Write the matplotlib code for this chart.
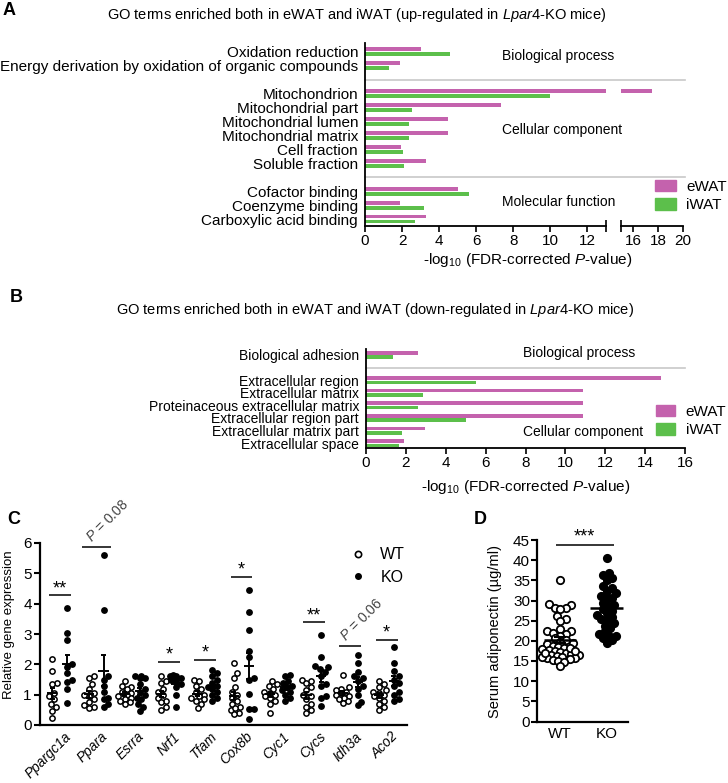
import matplotlib
matplotlib.use('Agg')
import matplotlib.pyplot as plt
from matplotlib.patches import Patch
from matplotlib.lines import Line2D
import numpy as np

plt.rcParams['font.family'] = ['Liberation Sans', 'DejaVu Sans']
plt.rcParams['mathtext.fontset'] = 'custom'
plt.rcParams['mathtext.rm'] = 'Liberation Sans'
plt.rcParams['mathtext.it'] = 'Liberation Sans:italic'
plt.rcParams['mathtext.bf'] = 'Liberation Sans:bold'

# ---- panel A: GO terms up-regulated ----
a_terms = ['Oxidation reduction', 'Energy derivation by oxidation of organic compounds',
           'Mitochondrion', 'Mitochondrial part', 'Mitochondrial lumen', 'Mitochondrial matrix',
           'Cell fraction', 'Soluble fraction',
           'Cofactor binding', 'Coenzyme binding', 'Carboxylic acid binding']
a_group_sizes = [2, 6, 3]
a_groups = ['Biological process', 'Cellular component', 'Molecular function']
a_ewat = [3.0, 1.9, 17.5, 7.35, 4.5, 4.5, 1.95, 3.3, 5.0, 1.9, 3.3]
a_iwat = [4.6, 1.3, 10.0, 2.55, 2.4, 2.4, 2.05, 2.1, 5.6, 3.2, 2.7]

# ---- panel B: GO terms down-regulated ----
b_terms = ['Biological adhesion', 'Extracellular region', 'Extracellular matrix',
           'Proteinaceous extracellular matrix', 'Extracellular region part',
           'Extracellular matrix part', 'Extracellular space']
b_group_sizes = [1, 6]
b_groups = ['Biological process', 'Cellular component']
b_ewat = [2.6, 14.8, 10.9, 10.87, 10.87, 2.95, 1.93]
b_iwat = [1.33, 5.5, 2.85, 2.63, 5.0, 1.83, 1.68]

# ---- panel C: relative gene expression ----
c_genes = ['Ppargc1a', 'Ppara', 'Esrra', 'Nrf1', 'Tfam', 'Cox8b', 'Cyc1', 'Cycs', 'Idh3a', 'Aco2']
c_wt = [
    [2.17, 1.79, 1.38, 1.35, 1.05, 0.95, 0.85, 0.6, 0.45, 0.22, 0.7],
    [1.6, 1.55, 1.35, 1.2, 1.05, 0.95, 0.85, 0.75, 0.65, 0.6, 0.55, 1.0],
    [1.45, 1.3, 1.25, 1.2, 1.1, 1.05, 1.0, 0.95, 0.9, 0.85, 0.8, 0.75, 0.7],
    [1.6, 1.45, 1.4, 1.2, 1.1, 1.0, 0.9, 0.8, 0.75, 0.6, 0.5],
    [1.5, 1.45, 1.3, 1.2, 1.1, 1.0, 0.95, 0.9, 0.85, 0.8, 0.7, 0.55],
    [2.05, 1.7, 1.55, 1.25, 1.1, 1.0, 0.9, 0.8, 0.7, 0.6, 0.5, 0.4, 0.35, 0.55],
    [1.45, 1.35, 1.3, 1.2, 1.1, 1.05, 1.0, 0.95, 0.9, 0.8, 0.7, 0.4],
    [1.5, 1.45, 1.4, 1.25, 1.15, 1.0, 0.95, 0.85, 0.7, 0.6, 0.5, 0.4],
    [1.65, 1.25, 1.2, 1.15, 1.1, 1.05, 1.0, 0.95, 0.9, 0.85, 0.8, 0.72],
    [1.45, 1.35, 1.25, 1.15, 1.1, 1.05, 1.0, 0.95, 0.9, 0.8, 0.7, 0.6, 0.5],
]
c_ko = [
    [3.85, 3.03, 2.8, 2.0, 1.9, 1.7, 1.5, 1.43, 1.18, 0.73],
    [5.6, 3.8, 1.6, 1.5, 1.3, 1.1, 0.9, 0.7, 0.85, 0.6],
    [1.6, 1.6, 1.55, 1.55, 1.35, 1.2, 1.1, 1.0, 0.9, 0.85, 0.7, 0.6, 0.45],
    [1.65, 1.6, 1.6, 1.55, 1.5, 1.45, 1.35, 1.25, 1.0, 0.6],
    [1.8, 1.7, 1.6, 1.5, 1.4, 1.3, 1.25, 1.2, 1.1, 1.0, 0.9, 0.8],
    [4.45, 3.74, 3.13, 2.44, 2.25, 1.55, 1.5, 1.02, 0.53, 0.53, 0.2],
    [1.65, 1.6, 1.45, 1.4, 1.3, 1.25, 1.15, 1.1, 1.0, 0.9, 0.8],
    [2.98, 2.25, 1.95, 1.9, 1.85, 1.75, 1.6, 1.35, 1.3, 0.95, 0.9, 0.62],
    [2.3, 2.03, 1.76, 1.6, 1.55, 1.45, 1.3, 1.2, 1.0, 0.77, 0.65],
    [2.58, 2.03, 1.78, 1.6, 1.5, 1.38, 1.3, 1.1, 1.0, 0.85, 0.8],
]
c_sig_text = ['**', 'P = 0.08', '', '*', '*', '*', '', '**', 'P = 0.06', '*']
c_sig_y = [4.27, 5.88, 0, 2.09, 2.14, 4.87, 0, 3.38, 2.61, 2.8]

# ---- panel D: serum adiponectin ----
d_groups = ['WT', 'KO']
d_wt = [35.1, 29.1, 28.9, 28.2, 28.2, 27.9, 26.2, 25.3, 25.0, 22.9, 22.4, 22.4, 21.9, 21.7,
        21.2, 20.6, 20.2, 19.8, 19.4, 19.1, 18.8, 18.5, 18.2, 18.0, 17.7, 17.4, 17.2, 17.0,
        16.8, 16.6, 16.4, 16.2, 16.0, 15.8, 15.7, 15.9, 15.6, 15.2, 15.1, 14.8, 13.8, 18.2,
        17.6, 16.9]
d_ko = [40.5, 36.3, 36.7, 35.5, 35.2, 33.6, 33.0, 32.4, 31.8, 31.2, 30.6, 30.6, 29.5, 28.9,
        28.6, 28.0, 27.3, 26.8, 26.4, 25.8, 25.3, 25.2, 24.3, 23.7, 23.1, 22.4, 21.7, 21.2,
        21.2, 20.6, 20.2, 19.5]

W, H = 728, 783
PINK = '#C462AD'
GREEN = '#5CBF4B'
SEP = '#C8C8C8'


def px_axes(fig, x0, y0, x1, y1):
    return fig.add_axes([x0 / W, 1 - y1 / H, (x1 - x0) / W, (y1 - y0) / H])


def group_rows(sizes):
    rows, start = [], 0
    for n in sizes:
        rows += list(range(start, start + n))
        start += n + 1
    return np.array(rows, dtype=float)


def swarm(vals, dy, dx, width):
    # simple beeswarm: smallest sideways shift that avoids overlap
    vals = np.asarray(vals, dtype=float)
    offs = np.zeros(len(vals))
    placed = []
    cands = [0.0]
    k = 1
    while k * dx / 3 <= width:
        cands += [k * dx / 3, -k * dx / 3]
        k += 1
    for i in np.argsort(vals):
        y = vals[i]
        best, bestd = 0.0, -1
        for c in cands:
            d = min([np.hypot((c - px) / dx, (y - py) / dy) for px, py in placed], default=9)
            if d >= 1:
                best = c
                break
            if d > bestd:
                best, bestd = c, d
        offs[i] = best
        placed.append((best, y))
    return offs


fig = plt.figure(figsize=(W / 100, H / 100), dpi=100)

# ================= panel A =================
rows = group_rows(a_group_sizes)
axl = px_axes(fig, 365, 43, 606, 226)
axr = px_axes(fig, 621, 43, 683, 226)
for ax in (axl, axr):
    ax.patch.set_visible(False)
    ax.barh(rows - 0.18, a_ewat, height=0.28, color=PINK)
    ax.barh(rows + 0.18, a_iwat, height=0.28, color=GREEN)
    ax.set_ylim(12.5, -0.63)
    ax.spines['top'].set_visible(False)
    ax.spines['right'].set_visible(False)
    ax.spines['bottom'].set_linewidth(1.3)
    ax.tick_params(axis='x', labelsize=11, length=4, width=1.2, pad=2)
axr.spines['left'].set_visible(False)
axr.set_yticks([])
axl.spines['left'].set_linewidth(1.3)
axl.set_yticks(rows)
axl.set_yticklabels(a_terms, fontsize=11)
axl.tick_params(axis='y', length=0, pad=5)
axl.set_xlim(0, 13)
axl.set_xticks(range(0, 13, 2))
axl.set_xticks([13], minor=True)
axr.set_xlim(15, 20)
axr.set_xticks([16, 18, 20])
axr.set_xticks([15], minor=True)
for ax in (axl, axr):
    ax.tick_params(which='minor', direction='inout', length=9, width=1.2)
for r in (2, 9):
    axl.axhline(r, xmin=0, xmax=(685 - 365) / (606 - 365), color=SEP, lw=1.2, clip_on=False)
for name, y in zip(a_groups, [0.3, 5.6, 10.75]):
    axl.text(7.4, y, name, fontsize=10, va='center')
fig.legend(handles=[Patch(color=PINK, label='eWAT'), Patch(color=GREEN, label='iWAT')],
           loc='center left', bbox_to_anchor=(655 / W, 1 - 196 / H), frameon=False,
           fontsize=11, handlelength=1.35, handleheight=0.75, handletextpad=0.7,
           borderpad=0, borderaxespad=0, labelspacing=0.3)
fig.text(357 / W, 1 - 15 / H,
         r'GO terms enriched both in eWAT and iWAT (up-regulated in $\mathit{Lpar4}$-KO mice)',
         ha='center', va='center', fontsize=10.5)
fig.text(528 / W, 1 - 260 / H, r'-log$_{10}$ (FDR-corrected $\mathit{P}$-value)',
         ha='center', va='center', fontsize=11)
fig.text(3 / W, 1 - 2 / H, 'A', ha='left', va='top', fontsize=13, fontweight='bold')

# ================= panel B =================
rows = group_rows(b_group_sizes)
axb = px_axes(fig, 366, 349, 685, 448)
axb.barh(rows - 0.17, b_ewat, height=0.28, color=PINK)
axb.barh(rows + 0.17, b_iwat, height=0.28, color=GREEN)
axb.set_ylim(7.38, -0.47)
axb.set_xlim(0, 16)
axb.set_xticks(range(0, 17, 2))
axb.spines['top'].set_visible(False)
axb.spines['right'].set_visible(False)
axb.spines['left'].set_linewidth(1.3)
axb.spines['bottom'].set_linewidth(1.3)
axb.set_yticks(rows)
axb.set_yticklabels(b_terms, fontsize=10)
axb.tick_params(axis='y', length=0, pad=5)
axb.tick_params(axis='x', labelsize=11, length=4, width=1.2, pad=2)
axb.axhline(1, xmin=0, xmax=1.0, color=SEP, lw=1.2, clip_on=False)
for name, y in zip(b_groups, [-0.18, 6.1]):
    axb.text(7.85, y, name, fontsize=10, va='center')
fig.legend(handles=[Patch(color=PINK, label='eWAT'), Patch(color=GREEN, label='iWAT')],
           loc='center left', bbox_to_anchor=(656 / W, 1 - 421 / H), frameon=False,
           fontsize=11, handlelength=1.25, handleheight=0.75, handletextpad=0.7,
           borderpad=0, borderaxespad=0, labelspacing=0.3)
fig.text(375 / W, 1 - 310 / H,
         r'GO terms enriched both in eWAT and iWAT (down-regulated in $\mathit{Lpar4}$-KO mice)',
         ha='center', va='center', fontsize=10.5)
fig.text(526 / W, 1 - 487 / H, r'-log$_{10}$ (FDR-corrected $\mathit{P}$-value)',
         ha='center', va='center', fontsize=11)
fig.text(10 / W, 1 - 289 / H, 'B', ha='left', va='top', fontsize=13, fontweight='bold')

# ================= panel C =================
axc = px_axes(fig, 40, 543, 407, 725)
for i in range(len(c_genes)):
    for vals, off, filled in ((c_wt[i], -0.21, False), (c_ko[i], 0.2, True)):
        v = np.array(vals)
        xo = swarm(v, 0.16, 0.135, 0.2)
        axc.plot(i + off + xo, v, 'o', ms=3.8, mfc='black' if filled else 'white',
                 mec='black', mew=1.1, ls='', clip_on=False, zorder=3)
        m = v.mean()
        se = v.std(ddof=1) / np.sqrt(len(v))
        axc.hlines(m, i + off - 0.14, i + off + 0.14, color='black', lw=1.4, zorder=4)
        axc.vlines(i + off, m - se, m + se, color='black', lw=1.4, zorder=4)
        axc.hlines([m - se, m + se], i + off - 0.07, i + off + 0.07, color='black', lw=1.4, zorder=4)
for i, (txt, y) in enumerate(zip(c_sig_text, c_sig_y)):
    if not txt:
        continue
    half = 0.4 if i == 1 else 0.3
    axc.hlines(y, i - half, i + half, color='black', lw=1.1, clip_on=False)
    if txt.startswith('P'):
        axc.text(i - 0.06, y + 0.08, r'$\mathit{P}$' + txt[1:], rotation=45,
                 rotation_mode='anchor', ha='left', va='bottom', fontsize=10, color='#444444')
    else:
        axc.text(i, y - 0.05, txt, ha='center', va='bottom', fontsize=13)
axc.set_xlim(-0.55, 9.56)
axc.set_ylim(0, 6)
axc.set_yticks(range(7))
axc.set_xticks(range(len(c_genes)))
axc.set_xticklabels([])
for i, gene in enumerate(c_genes):
    axc.text(i + 0.12, -0.025, gene, transform=axc.get_xaxis_transform(), rotation=45,
             rotation_mode='anchor', ha='right', va='top', fontstyle='italic', fontsize=9.8)
axc.tick_params(axis='x', length=0)
axc.tick_params(axis='y', labelsize=11, length=4, width=1.5, pad=2)
axc.spines['top'].set_visible(False)
axc.spines['right'].set_visible(False)
axc.spines['left'].set_linewidth(1.6)
axc.spines['bottom'].set_linewidth(1.6)
axc.legend(handles=[Line2D([], [], marker='o', ls='', ms=4.5, mfc='white', mec='black', mew=1.2, label='WT'),
                    Line2D([], [], marker='o', ls='', ms=4, mfc='black', mec='black', label='KO')],
           loc='center left', bbox_to_anchor=(350 / W, 1 - 566 / H), bbox_transform=fig.transFigure,
           frameon=False, fontsize=11.5, handlelength=1.0, handletextpad=0.9, labelspacing=0.45,
           borderpad=0, borderaxespad=0)
fig.text(9 / W, 1 - 625 / H, 'Relative gene expression', rotation=90, ha='center', va='center',
         fontsize=9.5)
fig.text(7 / W, 1 - 511 / H, 'C', ha='left', va='top', fontsize=13, fontweight='bold')

# ================= panel D =================
axd = px_axes(fig, 537, 540, 628, 721.5)
for i, (vals, filled) in enumerate(((d_wt, False), (d_ko, True))):
    v = np.array(vals)
    xo = swarm(v, 1.3, 0.12, 0.4)
    axd.plot(i + xo, v, 'o', ms=5.3, mfc='black' if filled else 'white', mec='black',
             mew=1.3, ls='', clip_on=False, zorder=3)
    m = v.mean()
    se = v.std(ddof=1) / np.sqrt(len(v))
    axd.hlines(m, i - 0.35, i + 0.35, color='black', lw=1.8, zorder=4)
    axd.vlines(i, m - se, m + se, color='black', lw=1.5, zorder=4)
    axd.hlines([m - se, m + se], i - 0.13, i + 0.13, color='black', lw=1.5, zorder=4)
axd.hlines(43.8, -0.1, 1.16, color='black', lw=1.1)
axd.text(0.53, 43.6, '***', ha='center', va='bottom', fontsize=13)
axd.set_xlim(-0.5, 1.46)
axd.set_ylim(0, 45)
axd.set_yticks(range(0, 46, 5))
axd.set_xticks([0, 1])
axd.set_xticklabels(d_groups, fontsize=11)
axd.tick_params(axis='x', length=0, pad=4)
axd.tick_params(axis='y', labelsize=11, length=4, width=1.5, pad=1)
axd.spines['top'].set_visible(False)
axd.spines['right'].set_visible(False)
axd.spines['left'].set_linewidth(1.6)
axd.spines['bottom'].set_linewidth(1.6)
fig.text(495 / W, 1 - 631 / H, 'Serum adiponectin (µg/ml)', rotation=90, ha='center',
         va='center', fontsize=10.5)
fig.text(474 / W, 1 - 511 / H, 'D', ha='left', va='top', fontsize=13, fontweight='bold')

fig.savefig('out.png', dpi=100)
